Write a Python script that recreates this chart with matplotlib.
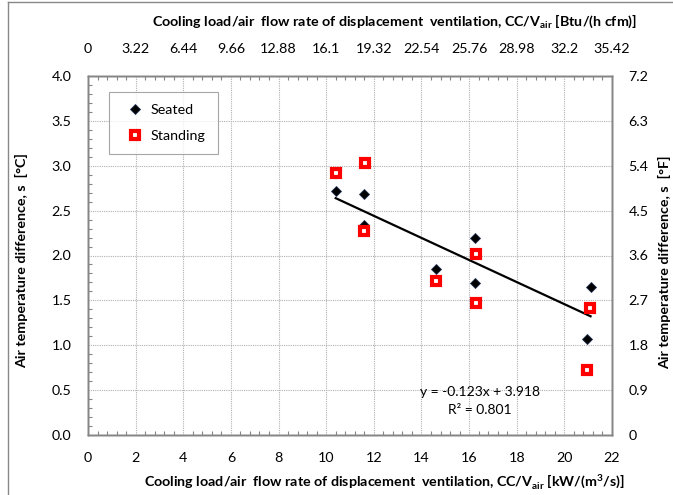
import matplotlib
matplotlib.use("Agg")
import matplotlib.pyplot as plt
import numpy as np
from matplotlib.ticker import MultipleLocator
from matplotlib.lines import Line2D

plt.rcParams['font.family'] = ['Lato', 'DejaVu Sans']
plt.rcParams['mathtext.fontset'] = 'custom'
plt.rcParams['mathtext.rm'] = 'Lato'
plt.rcParams['mathtext.bf'] = 'Lato:bold'

# Data
seated_x = [10.4, 11.6, 11.6, 14.6, 16.26, 16.26, 21.1, 20.96]
seated_y = [2.72, 2.69, 2.34, 1.85, 2.19, 1.69, 1.65, 1.07]
standing_x = [10.41, 11.62, 11.6, 14.6, 16.28, 16.28, 21.09, 20.96]
standing_y = [2.92, 3.03, 2.27, 1.72, 2.02, 1.47, 1.41, 0.72]
trend_slope = -0.123
trend_intercept = 3.918
r_squared = 0.801

bottom_ticks = [0, 2, 4, 6, 8, 10, 12, 14, 16, 18, 20, 22]
top_tick_labels = ['0', '3.22', '6.44', '9.66', '12.88', '16.1', '19.32', '22.54',
                   '25.76', '28.98', '32.2', '35.42']
left_ticks = [0.0, 0.5, 1.0, 1.5, 2.0, 2.5, 3.0, 3.5, 4.0]
right_tick_labels = ['0', '0.9', '1.8', '2.7', '3.6', '4.5', '5.4', '6.3', '7.2']

W, H = 673, 495
fig = plt.figure(figsize=(W / 100, H / 100), dpi=100)
ax = fig.add_axes([88 / W, (H - 435) / H, 524 / W, 359 / H])

spine_col = '#868686'
grid_col = '#b0b0b0'
TICK_FS = 10.3
LABEL_FS = 10.3

# Trend line over the data range
all_x = seated_x + standing_x
tx = np.array([min(all_x), max(all_x)])
ax.plot(tx, trend_slope * tx + trend_intercept, color='black', lw=1.6, zorder=3)

ax.plot(seated_x, seated_y, linestyle='none', marker='D', ms=4.6,
        mfc='black', mec='#1f3050', mew=0.6, label='Seated', zorder=4)
ax.plot(standing_x, standing_y, linestyle='none', marker='s', ms=6.4,
        mfc='white', mec='#ff0000', mew=3.0, label='Standing', zorder=5)

ax.set_xlim(0, 22)
ax.set_ylim(0, 4)
ax.set_xticks(bottom_ticks)
ax.set_yticks(left_ticks)
ax.set_yticklabels(['%.1f' % v for v in left_ticks])
ax.xaxis.set_minor_locator(MultipleLocator(0.4))
ax.yaxis.set_minor_locator(MultipleLocator(0.1))
ax.tick_params(which='major', length=0, labelsize=TICK_FS, colors='black')
ax.tick_params(axis='x', which='major', pad=12)
ax.tick_params(axis='y', which='major', pad=12)
ax.tick_params(which='minor', direction='in', length=3, color=spine_col, width=0.8)
ax.grid(True, which='major', linestyle=(0, (1, 1)), color=grid_col, lw=0.8)
for s in ax.spines.values():
    s.set_color(spine_col)
    s.set_linewidth(1.0)

# Top axis
axt = ax.twiny()
axt.set_xlim(0, 22)
axt.set_xticks(bottom_ticks)
axt.set_xticklabels(top_tick_labels)
axt.xaxis.set_minor_locator(MultipleLocator(0.4))
axt.tick_params(which='major', length=0, labelsize=TICK_FS, pad=15)
axt.tick_params(which='minor', direction='in', length=3, color=spine_col, width=0.8)

# Right axis
axr = ax.twinx()
axr.set_ylim(0, 7.2)
axr.set_yticks([float(v) for v in right_tick_labels])
axr.set_yticklabels(right_tick_labels)
axr.tick_params(which='major', length=0, labelsize=TICK_FS, pad=12)
for a in (axt, axr):
    for s in a.spines.values():
        s.set_color(spine_col)
        s.set_linewidth(1.0)

# Legend
leg = ax.legend(loc='upper left', bbox_to_anchor=(21 / 524, 1 - 16 / 359),
                frameon=True, fancybox=False, edgecolor='#909090',
                fontsize=TICK_FS, handlelength=2.0, handletextpad=0.05,
                labelspacing=0.95, borderpad=0.85, borderaxespad=0)
leg.get_frame().set_linewidth(0.8)
leg.set_zorder(10)

# Trend text
ax.annotate('y = %.3fx + %.3f' % (trend_slope, trend_intercept),
            xy=((480 - 88) / 524, (435 - 392) / 359),
            xycoords='axes fraction', ha='center', va='center', fontsize=10)
ax.annotate('R² = %.3f' % r_squared, xy=((480 - 88) / 524, (435 - 410) / 359),
            xycoords='axes fraction', ha='center', va='center', fontsize=10)

# Axis labels
fig.text(384 / W, 1 - 482 / H,
         r'Cooling load/air  flow rate of displacement  ventilation, CC/V$_{\mathbf{air}}$ [kW/(m$^{\mathbf{3}}$/s)]',
         ha='center', va='center', fontsize=LABEL_FS, fontweight='bold')
fig.text(395 / W, 1 - 21 / H,
         r'Cooling load/air  flow rate of displacement  ventilation, CC/V$_{\mathbf{air}}$ [Btu/(h cfm)]',
         ha='center', va='center', fontsize=LABEL_FS, fontweight='bold')
fig.text(22 / W, 1 - 261 / H, 'Air temperature difference, s  [°C]',
         ha='center', va='center', rotation=90, fontsize=LABEL_FS, fontweight='bold')
fig.text(665 / W, 1 - 262 / H, 'Air temperature difference, s  [°F]',
         ha='center', va='center', rotation=90, fontsize=LABEL_FS, fontweight='bold')

# Outer frame (cropped chart area border)
fig.add_artist(Line2D([8 / W, 8 / W], [0, 1 - 2 / H], transform=fig.transFigure,
                      color='#888888', lw=1.0))
fig.add_artist(Line2D([8 / W, 1], [1 - 2 / H, 1 - 2 / H], transform=fig.transFigure,
                      color='#888888', lw=1.0))

fig.savefig('out.png', dpi=100)
